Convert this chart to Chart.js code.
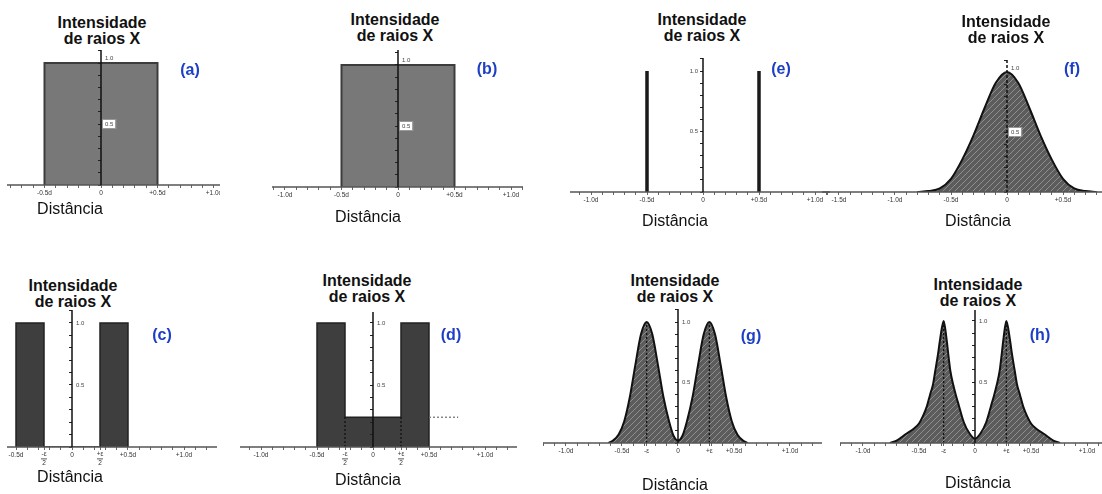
<!DOCTYPE html>
<html lang="pt">
<head>
<meta charset="utf-8">
<title>Intensidade de raios X</title>
<script src="https://cdn.jsdelivr.net/npm/chart.js@4.4.1/dist/chart.umd.min.js"></script>
<style>
  html, body { margin: 0; padding: 0; background: #fff; }
  #wrap { position: relative; width: 1102px; height: 494px; overflow: hidden; font-family: "Liberation Sans", Arial, sans-serif; }
  #wrap canvas { position: absolute; }
  .tit { position: absolute; width: 160px; text-align: center; font-weight: bold; font-size: 16px; line-height: 16px; color: #111; }
  .tag { position: absolute; transform: translate(-50%, -50%); font-weight: bold; font-size: 16px; line-height: 16px; color: #1c3fc6; }
  .dist { position: absolute; transform: translate(-50%, -50%); font-size: 16px; line-height: 16px; color: #111; white-space: nowrap; }
</style>
</head>
<body>
<div id="wrap"></div>
<script>
// distances in units of d, intensity relative to the maximum
const squareX = [-0.5, -0.5, 0.5, 0.5];
const squareY = [0, 1.0, 1.0, 0];

const slitsX = [-0.5, -0.5, -0.25, -0.25, 0.25, 0.25, 0.5, 0.5];
const slitsY = [0, 1.0, 1.0, 0, 0, 1.0, 1.0, 0];

const stepX = [-0.5, -0.5, -0.25, -0.25, 0.25, 0.25, 0.5, 0.5];
const stepY = [0, 1.0, 1.0, 0.24, 0.24, 1.0, 1.0, 0];
const ledgeX = [0.5, 0.76];
const ledgeY = [0.24, 0.24];
const stepEdges = [-0.25, 0.25];

const linesX = [-0.5, -0.5, 0, 0.5, 0.5];
const linesY = [0, 1.0, null, 0, 1.0];

const bellX = [-0.8, -0.7, -0.6, -0.5, -0.4, -0.3, -0.2, -0.1, 0, 0.1, 0.2, 0.3, 0.4, 0.5, 0.6, 0.7, 0.8];
const bellY = [0, 0.008, 0.03, 0.11, 0.27, 0.47, 0.70, 0.91, 1.0, 0.91, 0.70, 0.47, 0.27, 0.11, 0.03, 0.008, 0];

const twinX = [-0.62, -0.58, -0.53, -0.48, -0.43, -0.38, -0.33, -0.28, -0.23, -0.18, -0.13, -0.08, -0.04, 0,
               0.04, 0.08, 0.13, 0.18, 0.23, 0.28, 0.33, 0.38, 0.43, 0.48, 0.53, 0.58, 0.62];
const twinY = [0, 0.02, 0.07, 0.18, 0.38, 0.65, 0.90, 1.0, 0.90, 0.65, 0.38, 0.18, 0.06, 0.02,
               0.06, 0.18, 0.38, 0.65, 0.90, 1.0, 0.90, 0.65, 0.38, 0.18, 0.07, 0.02, 0];

const cuspX = [-0.76, -0.70, -0.66, -0.61, -0.55, -0.50, -0.465, -0.43, -0.40, -0.375, -0.355, -0.33, -0.31, -0.28,
               -0.255, -0.235, -0.22, -0.195, -0.17, -0.145, -0.10, -0.05, 0,
               0.05, 0.10, 0.145, 0.17, 0.195, 0.22, 0.235, 0.255, 0.28,
               0.31, 0.33, 0.355, 0.375, 0.40, 0.43, 0.465, 0.50, 0.55, 0.61, 0.66, 0.70, 0.76];
const cuspY = [0, 0.02, 0.045, 0.078, 0.115, 0.16, 0.22, 0.30, 0.40, 0.48, 0.59, 0.73, 0.86, 1.0,
               0.86, 0.70, 0.59, 0.48, 0.39, 0.31, 0.17, 0.08, 0.035,
               0.08, 0.17, 0.31, 0.39, 0.48, 0.59, 0.70, 0.86, 1.0,
               0.86, 0.73, 0.59, 0.48, 0.40, 0.30, 0.22, 0.16, 0.115, 0.078, 0.045, 0.02, 0];
const peakX = [-0.28, 0.28];

// tick labels
const ticksA = [-0.5, 0, 0.5, 1.0];
const labelsA = ['-0.5d', '0', '+0.5d', '+1.0d'];
const ticksB = [-1.0, -0.5, 0, 0.5, 1.0];
const labelsB = ['-1.0d', '-0.5d', '0', '+0.5d', '+1.0d'];
const ticksF = [-1.5, -1.0, -0.5, 0, 0.5];
const labelsF = ['-1.5d', '-1.0d', '-0.5d', '0', '+0.5d'];
const ticksC = [-0.5, -0.25, 0, 0.25, 0.5, 1.0];
const labelsC = ['-0.5d', ['-ε', '2'], '0', ['+ε', '2'], '+0.5d', '+1.0d'];
const ticksD = [-1.0, -0.5, -0.25, 0, 0.25, 0.5, 1.0];
const labelsD = ['-1.0d', '-0.5d', ['-ε', '2'], '0', ['+ε', '2'], '+0.5d', '+1.0d'];
const ticksG = [-1.0, -0.5, -0.28, 0, 0.28, 0.5, 1.0];
const labelsG = ['-1.0d', '-0.5d', '-ε', '0', '+ε', '+0.5d', '+1.0d'];
const yTicks = [1.0, 0.5];
const yLabels = ['1.0', '0.5'];

const FONT = '"Liberation Sans", Arial, sans-serif';
const wrap = document.getElementById('wrap');
const pts = (xs, ys) => xs.map((x, i) => ({x: x, y: ys[i]}));
const near = (a, b) => Math.abs(a - b) < 1e-6;

// where each small plot sits: axis extent, pixel of x = 0, baseline, axis top, px per d / per unit
const layout = {
  a: {left: 7, right: 220, zero: 101, base: 185, top: 50, ux: 113, uy: 122},
  b: {left: 272, right: 523, zero: 398, base: 187, top: 50, ux: 113, uy: 122},
  e: {left: 570, right: 830, zero: 703, base: 192, top: 58, ux: 112, uy: 121},
  f: {left: 822, right: 1102, zero: 1007, base: 192, top: 60, ux: 112, uy: 120},
  c: {left: 7, right: 217, zero: 72, base: 447, top: 310, ux: 112, uy: 124},
  d: {left: 240, right: 517, zero: 373, base: 447, top: 312, ux: 112, uy: 124},
  g: {left: 543, right: 822, zero: 678, base: 443, top: 309, ux: 112, uy: 121},
  h: {left: 840, right: 1102, zero: 975, base: 443, top: 310, ux: 112, uy: 122}
};

const textPos = {
  a: {title: [102, 23], tag: [190, 70], dist: [70, 209]},
  b: {title: [395, 20], tag: [487, 69], dist: [368, 217]},
  e: {title: [702, 20], tag: [781, 69], dist: [675, 221]},
  f: {title: [1006, 22], tag: [1072, 69], dist: [978, 221]},
  c: {title: [73, 286], tag: [162, 335], dist: [70, 477]},
  d: {title: [367, 281], tag: [451, 335], dist: [368, 480]},
  g: {title: [675, 281], tag: [751, 336], dist: [675, 485]},
  h: {title: [978, 285], tag: [1040, 335], dist: [978, 483]}
};

function hatch(base, stripe) {
  const c = document.createElement('canvas');
  c.width = 6; c.height = 6;
  const g = c.getContext('2d');
  g.fillStyle = base;
  g.fillRect(0, 0, 6, 6);
  g.strokeStyle = stripe;
  g.lineWidth = 1;
  g.beginPath();
  g.moveTo(0, 6); g.lineTo(6, 0);
  g.moveTo(-1, 1); g.lineTo(1, -1);
  g.moveTo(5, 7); g.lineTo(7, 5);
  g.stroke();
  return g.createPattern(c, 'repeat');
}

// crossed axes: baseline at y = 0, intensity axis at x = 0, plus their numbers
function crossAxes(xTicks, xTexts, yOpt, yDash) {
  return {
    id: 'crossAxes',
    afterDraw(chart) {
      const ctx = chart.ctx, area = chart.chartArea;
      const xs = chart.scales.x, ys = chart.scales.y;
      const x0 = xs.getPixelForValue(0), y0 = ys.getPixelForValue(0);
      ctx.save();
      ctx.lineWidth = 1.5;
      ctx.strokeStyle = '#555';
      ctx.beginPath(); ctx.moveTo(area.left, y0); ctx.lineTo(area.right, y0); ctx.stroke();
      ctx.strokeStyle = '#111';
      ctx.setLineDash(yDash || []);
      ctx.beginPath(); ctx.moveTo(x0, area.top); ctx.lineTo(x0, y0); ctx.stroke();
      ctx.setLineDash([]);

      ctx.font = '6.5px ' + FONT;
      ctx.fillStyle = '#333';
      ctx.textAlign = 'center';
      ctx.textBaseline = 'top';
      xTicks.forEach((v, i) => {
        const px = xs.getPixelForValue(v), t = xTexts[i];
        if (Array.isArray(t)) {
          ctx.fillText(t[0], px, y0 + 4);
          ctx.fillRect(px - 3, y0 + 11.5, 6, 0.8);
          ctx.fillText(t[1], px, y0 + 13);
        } else {
          ctx.fillText(t, px, y0 + 5);
        }
      });

      ctx.font = '6px ' + FONT;
      ctx.textAlign = 'left';
      ctx.textBaseline = 'middle';
      yTicks.forEach((v, i) => {
        const txt = yLabels[i];
        const w = ctx.measureText(txt).width;
        const py = ys.getPixelForValue(v) + (yOpt.shift ? yOpt.shift[i] : 0);
        const px = yOpt.side === 'left' ? x0 - 5 - w : x0 + 4;
        if (yOpt.boxed && yOpt.boxed[i]) {
          ctx.fillStyle = '#fff';
          ctx.fillRect(px - 2, py - 4, w + 4, 8);
          ctx.strokeStyle = '#999';
          ctx.lineWidth = 1;
          ctx.strokeRect(px - 2.5, py - 4.5, w + 5, 9);
        }
        ctx.fillStyle = '#444';
        ctx.fillText(txt, px, py);
      });
      ctx.restore();
    }
  };
}

function panel(key, datasets, xTicks, xTexts, yOpt, yDash) {
  const g = layout[key];
  const w = g.right - g.left, h = g.base - g.top + 22;
  const cv = document.createElement('canvas');
  cv.width = w; cv.height = h;
  cv.style.left = g.left + 'px';
  cv.style.top = g.top + 'px';
  cv.style.width = w + 'px';
  cv.style.height = h + 'px';
  wrap.appendChild(cv);
  const xmin = (g.left - g.zero) / g.ux, xmax = (g.right - g.zero) / g.ux;
  const ymax = (g.base - g.top) / g.uy;

  new Chart(cv, {
    type: 'line',
    data: {datasets: datasets},
    options: {
      responsive: false,
      animation: false,
      devicePixelRatio: 1,
      layout: {padding: {left: 0, right: 0, top: 0, bottom: 22}, autoPadding: false},
      elements: {point: {radius: 0}, line: {borderJoinStyle: 'miter'}},
      plugins: {legend: {display: false}, tooltip: {enabled: false}},
      scales: {
        x: {
          type: 'linear', min: xmin, max: xmax,
          afterBuildTicks: s => {
            const t = [];
            for (let k = Math.ceil(xmin * 10 - 1e-6); k <= Math.floor(xmax * 10 + 1e-6); k++) t.push(k / 10);
            xTicks.forEach(v => { if (!t.some(u => near(u, v))) t.push(v); });
            t.sort((a, b) => a - b);
            s.ticks = t.map(v => ({value: v}));
          },
          afterFit: s => { s.height = 0; s.paddingLeft = 0; s.paddingRight = 0; },
          grid: {drawOnChartArea: false, tickLength: 3, color: '#666', lineWidth: 1, z: 1},
          border: {display: false},
          ticks: {display: false}
        },
        y: {
          type: 'linear', min: 0, max: ymax, position: {x: 0},
          afterBuildTicks: s => {
            const t = [];
            for (let k = 0; k <= Math.floor(ymax * 10 + 1e-6); k++) t.push({value: k / 10});
            s.ticks = t;
          },
          afterFit: s => { s.width = 0; s.paddingTop = 0; s.paddingBottom = 0; },
          grid: {drawOnChartArea: false, tickLength: 3, color: '#222', lineWidth: 1, z: 1},
          border: {display: false},
          ticks: {display: false}
        }
      }
    },
    plugins: [crossAxes(xTicks, xTexts, yOpt || {}, yDash)]
  });
}

// filled shapes go behind (order 1), dotted guides on top (order 0)
const light = {fill: 'origin', backgroundColor: '#787878', borderColor: '#3c3c3c', borderWidth: 2, order: 1};
const dark = {fill: 'origin', backgroundColor: '#3e3e3e', borderColor: '#222', borderWidth: 1.5, order: 1};
const dotted = {fill: false, borderColor: '#111', borderWidth: 1.3, borderDash: [2, 2], order: 0};
const curve = () => ({fill: 'origin', backgroundColor: hatch('#5c5c5c', '#8e8e8e'), borderColor: '#111',
                      borderWidth: 2, cubicInterpolationMode: 'monotone', order: 1});
const boxedY = {boxed: [false, true], shift: [-5, 0]};

panel('a', [Object.assign({data: pts(squareX, squareY)}, light)], ticksA, labelsA, boxedY);
panel('b', [Object.assign({data: pts(squareX, squareY)}, light)], ticksB, labelsB, boxedY);
panel('e', [{data: pts(linesX, linesY), fill: false, borderColor: '#1a1a1a', borderWidth: 3.5}],
      ticksB, labelsB, {side: 'left'});
panel('f', [Object.assign({data: pts(bellX, bellY)}, curve())], ticksF, labelsF,
      {boxed: [false, true], shift: [-4, 0]}, [3, 2]);
panel('c', [Object.assign({data: pts(slitsX, slitsY)}, dark)], ticksC, labelsC, {});
panel('d', [
  Object.assign({data: pts(stepX, stepY)}, dark),
  Object.assign({data: pts(ledgeX, ledgeY)}, dotted, {borderColor: '#777'}),
  Object.assign({data: pts([stepEdges[0], stepEdges[0]], [0, 0.24])}, dotted, {borderColor: '#111'}),
  Object.assign({data: pts([stepEdges[1], stepEdges[1]], [0, 0.24])}, dotted, {borderColor: '#111'})
], ticksD, labelsD, {});
panel('g', [
  Object.assign({data: pts(twinX, twinY)}, curve()),
  Object.assign({data: pts([peakX[0], peakX[0]], [0, 1.0])}, dotted),
  Object.assign({data: pts([peakX[1], peakX[1]], [0, 1.0])}, dotted)
], ticksG, labelsG, {});
panel('h', [
  Object.assign({data: pts(cuspX, cuspY)}, curve()),
  Object.assign({data: pts([peakX[0], peakX[0]], [0, 1.0])}, dotted),
  Object.assign({data: pts([peakX[1], peakX[1]], [0, 1.0])}, dotted)
], ticksG, labelsG, {});

function text(cls, html, x, y) {
  const d = document.createElement('div');
  d.className = cls;
  d.innerHTML = html;
  d.style.left = x + 'px';
  d.style.top = y + 'px';
  wrap.appendChild(d);
}

Object.keys(textPos).forEach(k => {
  const p = textPos[k];
  text('tit', 'Intensidade<br>de raios X', p.title[0] - 80, p.title[1] - 8);
  text('tag', '(' + k + ')', p.tag[0], p.tag[1]);
  text('dist', 'Distância', p.dist[0], p.dist[1]);
});
</script>
</body>
</html>
